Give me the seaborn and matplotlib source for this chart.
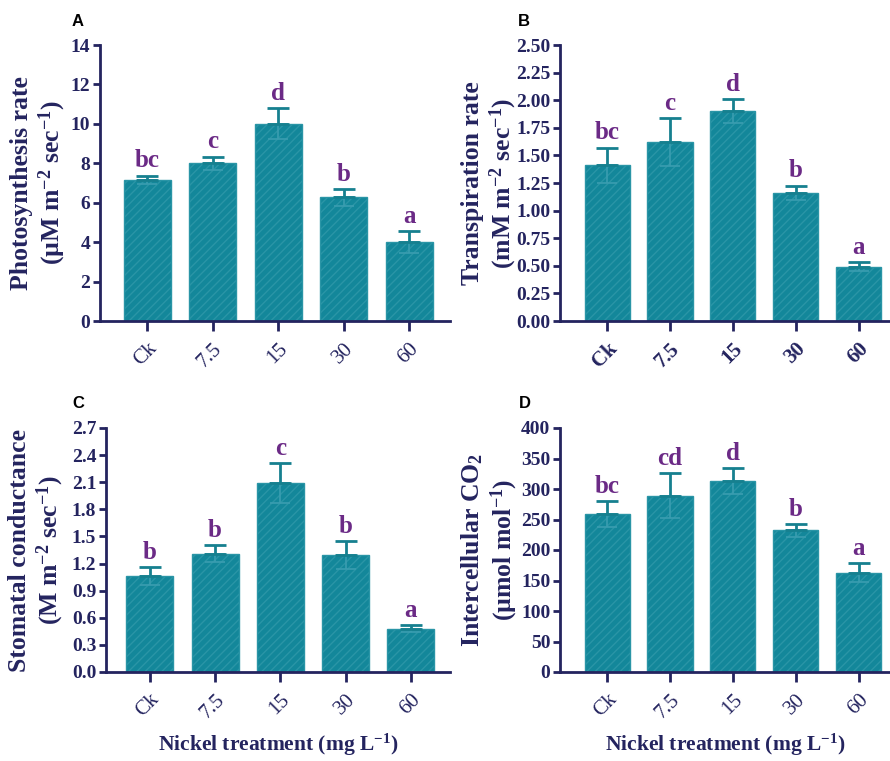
import matplotlib
matplotlib.use("Agg")
import matplotlib.pyplot as plt
import seaborn as sns
import pandas as pd
import numpy as np

categories = ["Ck", "7.5", "15", "30", "60"]

photo_mean = [7.15, 8.0, 10.0, 6.27, 4.02]
photo_err = [0.22, 0.34, 0.78, 0.43, 0.55]
photo_letters = ["bc", "c", "d", "b", "a"]

trans_mean = [1.41, 1.62, 1.90, 1.16, 0.49]
trans_err = [0.16, 0.22, 0.11, 0.065, 0.04]
trans_letters = ["bc", "c", "d", "b", "a"]

stom_mean = [1.06, 1.31, 2.09, 1.29, 0.48]
stom_err = [0.10, 0.095, 0.22, 0.155, 0.037]
stom_letters = ["b", "b", "c", "b", "a"]

co2_mean = [259, 289, 313, 232, 163]
co2_err = [22, 37, 21, 10, 16]
co2_letters = ["bc", "cd", "d", "b", "a"]

sns.set_theme(style="white")
plt.rcParams['font.family'] = ['Liberation Serif', 'DejaVu Serif']
plt.rcParams['mathtext.fontset'] = 'custom'
plt.rcParams['mathtext.rm'] = 'Liberation Serif:bold'
plt.rcParams['mathtext.it'] = 'Liberation Serif:bold'
plt.rcParams['mathtext.bf'] = 'Liberation Serif:bold'
plt.rcParams['hatch.color'] = '#45a6b6'
plt.rcParams['hatch.linewidth'] = 1.0

NAVY = "#24245f"
TEAL = "#13879a"
ERR = "#16808f"
PURPLE = "#6b2a86"

fig = plt.figure(figsize=(8.9, 7.61), dpi=100)

panels = [
    dict(pos=[100/890, 1-321/761, 350/890, (321-45)/761], mean=photo_mean, err=photo_err,
         letters=photo_letters, ylim=(0, 14), yticks=np.arange(0, 15, 2), fmt="{:.0f}",
         ylabel="Photosynthesis rate\n(µM m$^{-2}$ sec$^{-1}$)", tag="A", xbold=False,
         xlim=(-0.72, 4.62), xlabel=None, ylx=39),
    dict(pos=[560/890, 1-321/761, 330/890, (321-45)/761], mean=trans_mean, err=trans_err,
         letters=trans_letters, ylim=(0, 2.5), yticks=np.arange(0, 2.51, 0.25), fmt="{:.2f}",
         ylabel="Transpiration rate\n(mM m$^{-2}$ sec$^{-1}$)", tag="B", xbold=True,
         xlim=(-0.75, 4.5), xlabel=None, ylx=490),
    dict(pos=[106/890, 1-672/761, 344/890, (672-428)/761], mean=stom_mean, err=stom_err,
         letters=stom_letters, ylim=(0, 2.7), yticks=np.arange(0, 2.71, 0.3), fmt="{:.1f}",
         ylabel="Stomatal conductance\n(M m$^{-2}$ sec$^{-1}$)", tag="C", xbold=False,
         xlim=(-0.67, 4.6), xlabel="Nickel treatment (mg L$^{-1}$)", ylx=37),
    dict(pos=[560/890, 1-672/761, 330/890, (672-428)/761], mean=co2_mean, err=co2_err,
         letters=co2_letters, ylim=(0, 400), yticks=np.arange(0, 401, 50), fmt="{:.0f}",
         ylabel="Intercellular CO$_2$\n(µmol mol$^{-1}$)", tag="D", xbold=False,
         xlim=(-0.75, 4.5), xlabel="Nickel treatment (mg L$^{-1}$)", ylx=490),
]

for p in panels:
    ax = fig.add_axes(p["pos"])
    df = pd.DataFrame({"cat": categories, "val": p["mean"]})
    sns.barplot(data=df, x="cat", y="val", ax=ax, color=TEAL, saturation=1,
                width=0.72, edgecolor="#2a95a6", linewidth=1.0, errorbar=None, zorder=2)
    for bar in ax.patches:
        bar.set_hatch("////")
        bar.set_facecolor(TEAL)
    xs = np.arange(len(categories))
    means = np.array(p["mean"], dtype=float)
    errs = np.array(p["err"], dtype=float)
    ax.errorbar(xs, means, yerr=[errs, np.zeros_like(errs)], fmt="none",
                ecolor="#3a9db0", elinewidth=1.2, capsize=7.5, capthick=1.2, zorder=3)
    ax.errorbar(xs, means, yerr=[np.zeros_like(errs), errs], fmt="none",
                ecolor=ERR, elinewidth=2.0, capsize=8, capthick=2.0, zorder=4)
    yr = p["ylim"][1] - p["ylim"][0]
    for x, m, e, lab in zip(xs, means, errs, p["letters"]):
        ax.text(x, m + e + yr * 0.012, lab, ha="center", va="bottom",
                fontsize=18, fontweight="bold", color=PURPLE, fontfamily="Liberation Serif")
    ax.set_ylim(*p["ylim"])
    ax.set_xlim(*p["xlim"])
    ax.set_yticks(p["yticks"])
    ax.set_yticklabels([p["fmt"].format(v) for v in p["yticks"]], fontweight="bold",
                       fontsize=14, color=NAVY)
    ax.set_xticks(xs)
    ax.set_xticklabels(categories, rotation=45, ha="right", rotation_mode="anchor",
                       fontsize=15, color=NAVY,
                       fontweight="bold" if p["xbold"] else "normal")
    ax.tick_params(axis="y", direction="out", length=5, width=2, color=NAVY, pad=2, left=True)
    ax.tick_params(axis="x", direction="out", length=7, width=2, color=NAVY, pad=6, bottom=True)
    for s in ["top", "right"]:
        ax.spines[s].set_visible(False)
    for s in ["left", "bottom"]:
        ax.spines[s].set_color(NAVY)
        ax.spines[s].set_linewidth(2)
    ax.set_ylabel(p["ylabel"], fontsize=18.5, fontweight="bold", color=NAVY, linespacing=1.15)
    cy = p["pos"][1] + p["pos"][3] * 0.5
    ax.yaxis.set_label_coords(p["ylx"] / 890, cy, transform=fig.transFigure)
    ax.yaxis.label.set_verticalalignment("center")
    ax.set_xlabel("")
    if p["xlabel"]:
        cx = p["pos"][0] + p["pos"][2] * 0.5
        fig.text(cx, 1 - 745/761, p["xlabel"], fontsize=15.5, fontweight="bold", color=NAVY,
                 ha="center", va="center")
    ax.set_facecolor("white")
    ax.grid(False)

tag_pos = {"A": (72, 22), "B": (518, 22), "C": (72, 403), "D": (519, 403)}
for t, (x, y) in tag_pos.items():
    fig.text(x/890, 1-y/761, t, fontsize=12, fontweight="bold", color="black",
             fontfamily="Liberation Sans", ha="left", va="center")

fig.savefig("out.png", dpi=100, facecolor="white")
